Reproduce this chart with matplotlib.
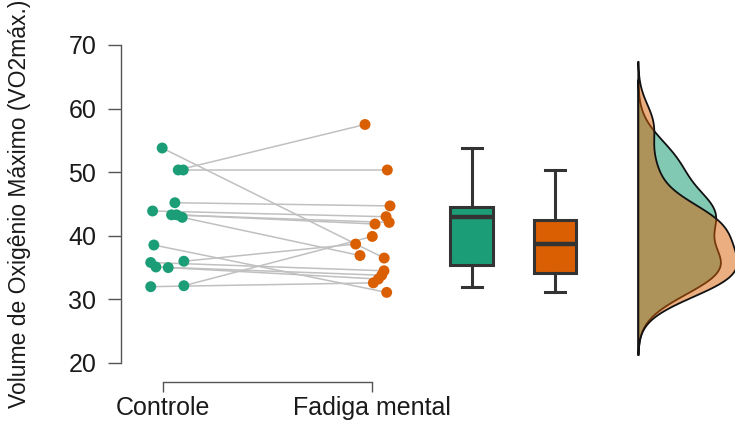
import numpy as np
import matplotlib
matplotlib.use('Agg')
import matplotlib.pyplot as plt

plt.rcParams['font.family'] = ['Liberation Sans', 'DejaVu Sans']

# VO2max per subject, paired by index
controle = [53.8, 50.35, 50.35, 45.2, 43.9, 43.3, 43.3, 42.9, 38.55, 36.0, 32.15, 32.0, 35.8, 35.1, 35.0]
fadiga = [36.5, 57.5, 50.35, 44.7, 43.0, 42.1, 41.85, 36.9, 31.1, 38.7, 39.9, 32.6, 34.5, 33.8, 33.2]

# horizontal jitter of the points
jit_controle = [-0.005, 0.072, 0.096, 0.056, -0.051, 0.040, 0.064, 0.091, -0.045, 0.099, 0.099, -0.060, -0.060, -0.035, 0.024]
jit_fadiga = [0.060, -0.032, 0.075, 0.088, 0.069, 0.084, 0.016, -0.056, 0.072, -0.077, 0.003, 0.008, 0.059, 0.048, 0.032]

groups = ['Controle', 'Fadiga mental']
colors = ['#1b9e77', '#d95f02']
ylabel = 'Volume de Oxigênio Máximo (VO2máx.)'


def kde(values):
    v = np.asarray(values)
    n = len(v)
    iqr = np.subtract(*np.percentile(v, [75, 25]))
    bw = 0.9 * min(v.std(ddof=1), iqr / 1.34) * n ** -0.2
    grid = np.linspace(v.min() - 3 * bw, v.max() + 3 * bw, 400)
    d = np.exp(-0.5 * ((grid[:, None] - v[None, :]) / bw) ** 2).sum(axis=1)
    d /= n * bw * np.sqrt(2 * np.pi)
    return grid, d


fig = plt.figure(figsize=(7.35, 4.21), dpi=100)
ax = fig.add_axes([120.5 / 735, 58 / 421, 614.5 / 735, 318 / 421])

# paired lines + points
xc = 1 + np.array(jit_controle)
xf = 2 + np.array(jit_fadiga)
for i in range(len(controle)):
    ax.plot([xc[i], xf[i]], [controle[i], fadiga[i]], color='#c0c0c0', lw=1.1, zorder=1)
ax.scatter(xc, controle, s=62, color=colors[0], edgecolors='none', zorder=3)
ax.scatter(xf, fadiga, s=62, color=colors[1], edgecolors='none', zorder=3)

# boxplots
bp = ax.boxplot([controle, fadiga], positions=[2.48, 2.88], widths=0.204,
                patch_artist=True, showfliers=False, whis=1.5, capwidths=0.096,
                boxprops=dict(edgecolor='#333333', linewidth=2.2),
                medianprops=dict(color='#333333', linewidth=3.2),
                whiskerprops=dict(color='#333333', linewidth=2.2),
                capprops=dict(color='#333333', linewidth=2.2))
for patch, c in zip(bp['boxes'], colors):
    patch.set_facecolor(c)

# half densities
base = 3.279
alphas = [0.55, 0.5]
dens = [kde(controle), kde(fadiga)]
scale = 0.475 / max(d.max() for _, d in dens)
for (grid, d), c, a in zip(dens, colors, alphas):
    xs = np.concatenate([[base], base + d * scale, [base]])
    ys = np.concatenate([[grid[0]], grid, [grid[-1]]])
    ax.fill(xs, ys, facecolor=matplotlib.colors.to_rgba(c, a),
            edgecolor='#111111', linewidth=1.3, zorder=2)

ax.set_xlim(0.795, 3.743)
ax.set_ylim(20, 70)

for s in ['top', 'right']:
    ax.spines[s].set_visible(False)
ax.spines['left'].set_bounds(20, 70)
ax.spines['bottom'].set_bounds(1, 2)
ax.spines['bottom'].set_position(('outward', 13.5))
for s in ['left', 'bottom']:
    ax.spines[s].set_color('#555555')
    ax.spines[s].set_linewidth(1)

ax.set_yticks(range(20, 71, 10))
ax.set_xticks([1, 2])
ax.set_xticklabels(groups)
ax.tick_params(axis='y', length=9.5, width=1, color='#555555', pad=8,
               labelsize=18, labelcolor='#1a1a1a')
ax.tick_params(axis='x', length=7.2, width=1, color='#555555', pad=3,
               labelsize=18, labelcolor='#1a1a1a')

ax.set_ylabel(ylabel, fontsize=16.5, color='#1a1a1a')
ax.yaxis.set_label_coords(-0.1457, 0.5)

fig.savefig('out.png', dpi=100)
